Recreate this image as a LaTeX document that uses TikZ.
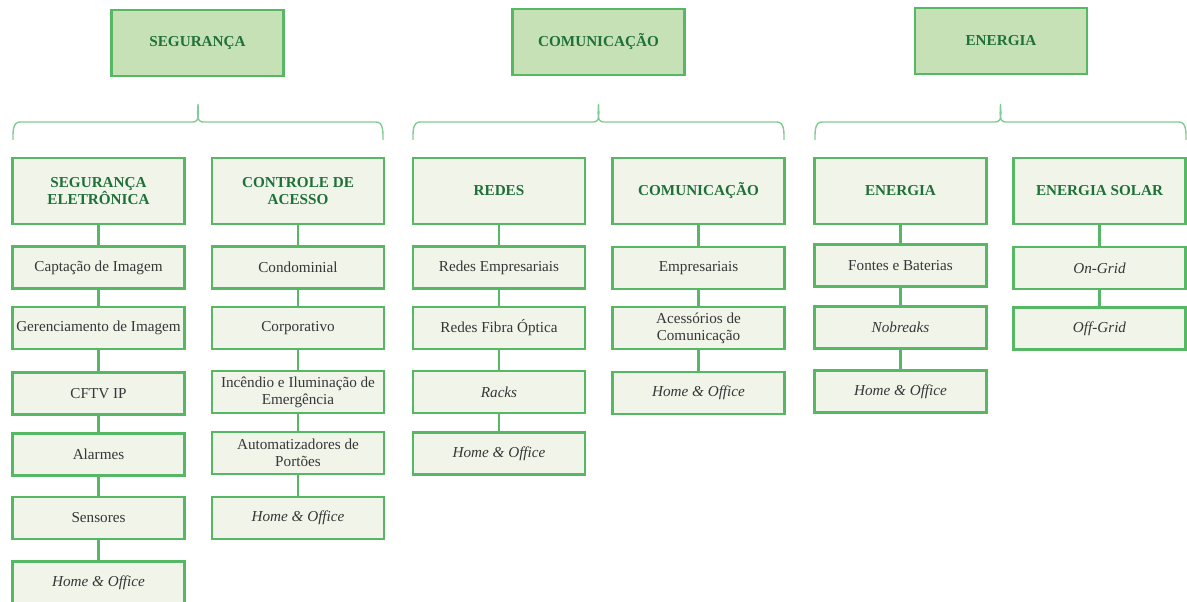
\documentclass[tikz,border=0pt]{standalone}
\usepackage{fontspec}
\setmainfont{Liberation Serif}
\usepackage{xcolor}
\usepackage{tikz}

\definecolor{boxline}{RGB}{86,184,100}
\definecolor{braceg}{RGB}{130,204,148}
\definecolor{topfill}{RGB}{199,225,182}
\definecolor{subfill}{RGB}{240,244,233}
\definecolor{headtext}{RGB}{32,112,58}
\definecolor{leaftext}{RGB}{55,55,55}

\begin{document}
\begin{tikzpicture}[x=0.025cm, y=-0.025cm,
    topbox/.style={draw=boxline, line width=1.5pt, fill=topfill, minimum width=4.3cm, minimum height=1.65cm,
        align=center, text=headtext, font=\fontsize{10.8}{12}\selectfont\bfseries},
    subbox/.style={topbox, fill=subfill},
    leaf/.style={draw=boxline, line width=1.5pt, fill=subfill, minimum width=4.3cm, minimum height=1.05cm,
        inner sep=1pt, align=center, text=leaftext, font=\fontsize{10.8}{12}\selectfont},
    link/.style={draw=boxline, line width=1.5pt},
    brace/.style={draw=braceg, line width=1pt}]
    \useasboundingbox (0,0) rectangle (1187,602);

    % main areas
    \node[topbox] (seg) at (197.5,43) {SEGURANÇA};
    \node[topbox] (com) at (598.5,42) {COMUNICAÇÃO};
    \node[topbox] (ene) at (1001,41) {ENERGIA};

    % braces
    \foreach \l/\m/\r in {13/198/383, 413/598.5/784, 815/1000.5/1186} {
        \draw[brace] (\l,140) to[out=90,in=180] (\l+7,122) -- (\m-5,122)
            to[out=0,in=-90] (\m,104) to[out=-90,in=180] (\m+5,122)
            -- (\r-7,122) to[out=0,in=90] (\r,140);
    }

    % sub areas
    \node[subbox] (segel) at (98.5,191) {SEGURANÇA\\ELETRÔNICA};
    \node[subbox] (ctrl) at (298,191) {CONTROLE DE\\ACESSO};
    \node[subbox] (redes) at (499,191) {REDES};
    \node[subbox] (comu) at (698.5,191) {COMUNICAÇÃO};
    \node[subbox] (energ) at (900.5,191) {ENERGIA};
    \node[subbox] (solar) at (1099.5,191) {ENERGIA SOLAR};

    % seguranca eletronica
    \node[leaf] (segel1) at (98.5,267.5) {Captação de Imagem};
    \node[leaf] (segel2) at (98.5,328) {Gerenciamento de Imagem};
    \node[leaf] (segel3) at (98.5,393.5) {CFTV IP};
    \node[leaf] (segel4) at (98.5,454.5) {Alarmes};
    \node[leaf] (segel5) at (98.5,518) {Sensores};
    \node[leaf] (segel6) at (98.5,582.5) {\textit{Home \& Office}};

    % controle de acesso
    \node[leaf] (ctrl1) at (298,267.5) {Condominial};
    \node[leaf] (ctrl2) at (298,328) {Corporativo};
    \node[leaf] (ctrl3) at (298,392) {Incêndio e Iluminação de\\Emergência};
    \node[leaf] (ctrl4) at (298,453) {Automatizadores de\\Portões};
    \node[leaf] (ctrl5) at (298,518) {\textit{Home \& Office}};

    % redes
    \node[leaf] (redes1) at (499,267.5) {Redes Empresariais};
    \node[leaf] (redes2) at (499,328) {Redes Fibra Óptica};
    \node[leaf] (redes3) at (499,392) {\textit{Racks}};
    \node[leaf] (redes4) at (499,453.5) {\textit{Home \& Office}};

    % comunicacao
    \node[leaf] (comu1) at (698.5,268) {Empresariais};
    \node[leaf] (comu2) at (698.5,328) {Acessórios de\\Comunicação};
    \node[leaf] (comu3) at (698.5,393) {\textit{Home \& Office}};

    % energia
    \node[leaf] (energ1) at (900.5,265.5) {Fontes e Baterias};
    \node[leaf] (energ2) at (900.5,327.5) {\textit{Nobreaks}};
    \node[leaf] (energ3) at (900.5,391.5) {\textit{Home \& Office}};

    % energia solar
    \node[leaf] (solar1) at (1099.5,268) {\textit{On-Grid}};
    \node[leaf] (solar2) at (1099.5,328.5) {\textit{Off-Grid}};

    % links
    \foreach \a/\b in {segel/segel1, segel1/segel2, segel2/segel3, segel3/segel4, segel4/segel5, segel5/segel6,
                       ctrl/ctrl1, ctrl1/ctrl2, ctrl2/ctrl3, ctrl3/ctrl4, ctrl4/ctrl5,
                       redes/redes1, redes1/redes2, redes2/redes3, redes3/redes4,
                       comu/comu1, comu1/comu2, comu2/comu3,
                       energ/energ1, energ1/energ2, energ2/energ3,
                       solar/solar1, solar1/solar2}
        \draw[link] (\a) -- (\b);
\end{tikzpicture}
\end{document}
